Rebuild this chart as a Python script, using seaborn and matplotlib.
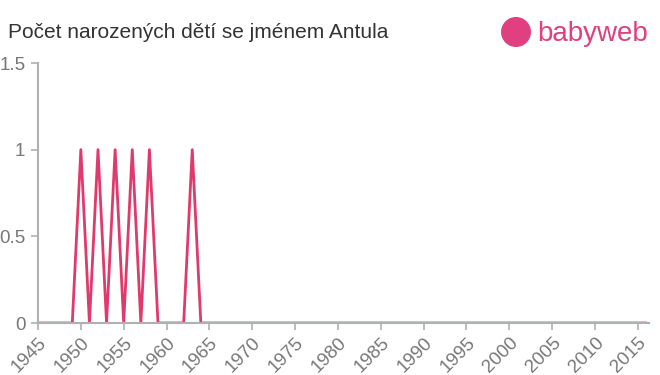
import matplotlib
matplotlib.use("Agg")
import matplotlib.pyplot as plt
import seaborn as sns
import pandas as pd
import numpy as np
from matplotlib.patches import Circle

years = list(range(1945, 2017))
peak_years = [1950, 1952, 1954, 1956, 1958, 1963]
peak_values = [1, 1, 1, 1, 1, 1]
counts = [peak_values[peak_years.index(y)] if y in peak_years else 0 for y in years]
xticks = list(range(1945, 2016, 5))
yticks = [0, 0.5, 1, 1.5]
ytick_labels = ["0", "0.5", "1", "1.5"]
title = "Počet narozených dětí se jménem Antula"

df = pd.DataFrame({"year": years, "count": counts})

sns.set_style("white")
plt.rcParams["font.family"] = ["Liberation Sans", "DejaVu Sans"]

W, H = 660, 375
fig = plt.figure(figsize=(6.6, 3.75), dpi=100)
ax = fig.add_axes([38/W, 1-323/H, (649-38)/W, (323-63)/H])
sns.lineplot(data=df, x="year", y="count", ax=ax, color="#e0396b", linewidth=2)

ax.set_xlim(1945, 2016.3)
ax.set_ylim(0, 1.5)
ax.set_xticks(xticks)
ax.set_xticklabels([str(x) for x in xticks], rotation=45, ha="right", rotation_mode="anchor")
ax.set_yticks(yticks)
ax.set_yticklabels(ytick_labels)
ax.set_xlabel("")
ax.set_ylabel("")
for s in ["top", "right"]:
    ax.spines[s].set_visible(False)
for s in ["left", "bottom"]:
    ax.spines[s].set_color("#b0b0b0")
    ax.spines[s].set_linewidth(1.5)
ax.tick_params(axis="both", bottom=True, left=True, colors="#b0b0b0", labelcolor="#777777",
               labelsize=13.5, length=5, width=1.2, direction="out")
ax.tick_params(axis="x", pad=3)
ax.tick_params(axis="y", pad=4)

fig.text(8/W, 1-32/H, title, fontsize=15, color="#333333", va="center", ha="left")

# logo
r_px = 15
fig.patches.append(Circle((516, H-32), r_px, transform=None,
                          facecolor="#e0407f", edgecolor="none"))
fig.text(537/W, 1-34/H, "babyweb", fontsize=20, color="#e0407f", va="center", ha="left")

fig.savefig("out.png", dpi=100)
